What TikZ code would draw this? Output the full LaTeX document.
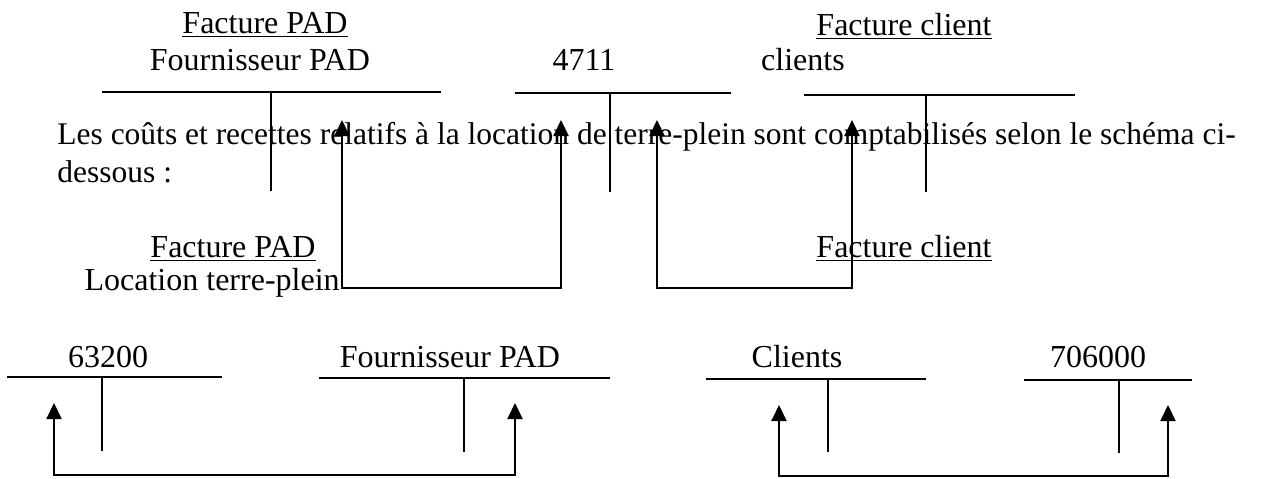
\documentclass[tikz,border=0pt]{standalone}
\usepackage{fontspec}
\setmainfont{Liberation Serif}
\usepackage{tikz}
\usetikzlibrary{arrows.meta}

\begin{document}
\begin{tikzpicture}[x=0.5pt, y=0.5pt, >={Triangle[length=8pt, width=7.5pt]},
    texte/.style={anchor=base, inner sep=0pt, font=\fontsize{16}{19}\selectfont},
    trait/.style={line width=1.1pt},
    fleche/.style={line width=1.1pt, <->}]
    \useasboundingbox (0,0) rectangle (1284,-478);

    % 1. Intitulés du haut
    \node[texte] (factPAD) at (265,-33) {\underline{Facture PAD}};
    \node[texte] (fournPAD) at (260,-70) {Fournisseur PAD};
    \node[texte] (c4711) at (584,-70) {4711};
    \node[texte] (clients) at (803,-70) {clients};
    \node[texte] (factCli) at (904,-35) {\underline{Facture client}};

    % 2. Texte
    \node[texte, anchor=base west, font=\fontsize{15.75}{19}\selectfont] (para1) at (57,-144)
        {Les coûts et recettes relatifs à la location de terre-plein sont comptabilisés selon le schéma ci-};
    \node[texte, anchor=base west, font=\fontsize{15.75}{19}\selectfont] (para2) at (57,-182) {dessous :};

    % 3. Intitulés du milieu et du bas
    \node[texte] (factPAD2) at (233,-257) {\underline{Facture PAD}};
    \node[texte, anchor=base east] (location) at (340,-290) {Location terre-plein};
    \node[texte] (factCli2) at (904,-257) {\underline{Facture client}};
    \node[texte] (c63200) at (108,-367) {63200};
    \node[texte] (fournPAD2) at (450,-367) {Fournisseur PAD};
    \node[texte] (clients2) at (797,-367) {Clients};
    \node[texte] (c706000) at (1098,-367) {706000};

    % 4. Comptes en T
    \foreach \xa/\xb/\xs/\yh/\yb in {102/441/271/92/191, 515/731/610/93/192,
        804/1075/926/95/192, 7/222/102/377/451, 319/610/464/378/452,
        706/926/828/379/452, 1024/1192/1119/380/453} {
        \draw[trait] (\xa,-\yh) -- (\xb,-\yh) (\xs,-\yh) -- (\xs,-\yb);
    }

    % 5. Flèches
    \coordinate (p1) at (342,-120); \coordinate (p2) at (561,-120);
    \coordinate (q1) at (450,-288);
    \coordinate (p3) at (657,-120); \coordinate (p4) at (852,-120);
    \coordinate (q2) at (750,-288);
    \coordinate (p5) at (54,-403); \coordinate (p6) at (515,-403);
    \coordinate (q3) at (280,-475);
    \coordinate (p7) at (779,-405); \coordinate (p8) at (1168,-405);
    \coordinate (q4) at (970,-476);
    \draw[fleche] (p1) |- (q1) -| (p2);
    \draw[fleche] (p3) |- (q2) -| (p4);
    \draw[fleche] (p5) |- (q3) -| (p6);
    \draw[fleche] (p7) |- (q4) -| (p8);
\end{tikzpicture}
\end{document}
